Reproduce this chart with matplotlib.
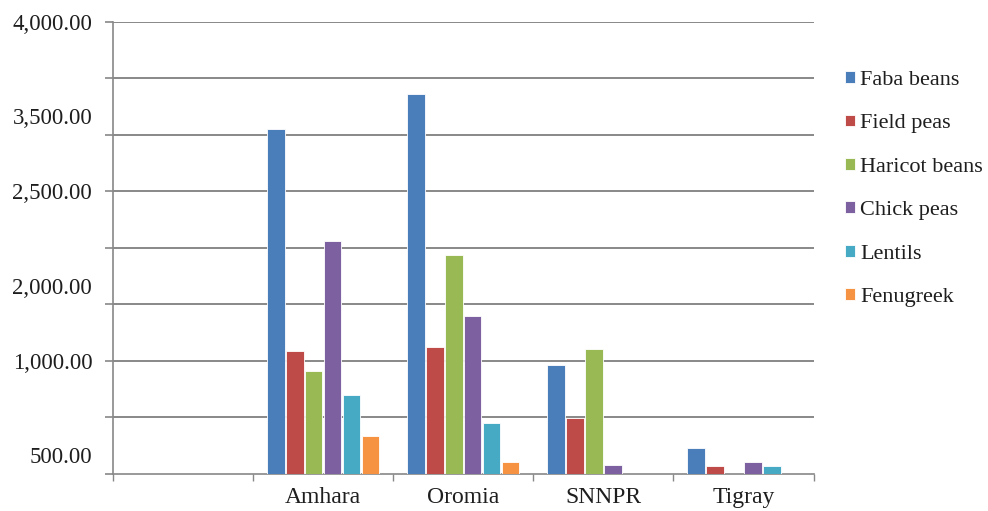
import numpy as np
import matplotlib
matplotlib.use("Agg")
import matplotlib.pyplot as plt
from matplotlib.ticker import FixedLocator

plt.rcParams['font.family'] = ['Liberation Serif', 'DejaVu Serif']

regions = ["Amhara", "Oromia", "SNNPR", "Tigray"]
crops = ["Faba beans", "Field peas", "Haricot beans", "Chick peas", "Lentils", "Fenugreek"]
faba_beans = [3050, 3360, 962, 227]
field_peas = [1088, 1124, 493, 71]
haricot_beans = [914, 1935, 1103, 0]
chick_peas = [2062, 1395, 80, 109]
lentils = [699, 451, 0, 71]
fenugreek = [336, 103, 0, 0]
series = [faba_beans, field_peas, haricot_beans, chick_peas, lentils, fenugreek]
colors = ["#4A7EBB", "#BE4B48", "#98B954", "#7D60A0", "#46AAC5", "#F59343"]

ytick_values = [4000, 3167, 2500, 1667, 1000, 167]
ytick_labels = ["4,000.00", "3,500.00", "2,500.00", "2,000.00", "1,000.00", "500.00"]
grid_values = np.arange(0, 4001, 500)

fig = plt.figure(figsize=(9.88, 5.11), dpi=100)
ax = fig.add_axes([0.1144, 0.0724, 0.709, 0.8846])

x = np.arange(len(regions))
n = len(series)
pitch = 0.135
width = 0.125
for i, (vals, name, c) in enumerate(zip(series, crops, colors)):
    offs = (i - (n - 1) / 2) * pitch
    ax.bar(x + offs, vals, width=width, color=c, edgecolor="white",
           linewidth=0.6, label=name, zorder=3)

ax.set_xlim(-1.5, 3.5)
ax.set_ylim(0, 4000)

text_color = "#1e1e1e"

# category axis: boundaries as ticks, names centred in each slot
ax.set_xticks(x)
ax.set_xticklabels(regions, fontsize=17, color=text_color)
ax.tick_params(axis="x", which="major", length=0, pad=9)
ax.xaxis.set_minor_locator(FixedLocator(np.arange(-1.5, 3.6, 1.0)))
ax.tick_params(axis="x", which="minor", length=5, color="#888888", width=1)

# value axis: gridlines every 500, labels as printed
ax.yaxis.remove_overlapping_locs = False
ax.yaxis.set_minor_locator(FixedLocator(grid_values))
ax.set_yticks(ytick_values)
ax.set_yticklabels(ytick_labels, fontsize=16.5, color=text_color)
ax.tick_params(axis="y", which="major", length=0, pad=15)
ax.tick_params(axis="y", which="minor", length=6, color="#888888", width=1.2)
for g in grid_values[1:]:
    ax.axhline(g, color="#888888", linewidth=1.4, zorder=0)

for s in ["top", "right"]:
    ax.spines[s].set_visible(False)
ax.spines["left"].set_color("#888888")
ax.spines["left"].set_linewidth(1.2)
ax.spines["bottom"].set_color("#888888")
ax.spines["bottom"].set_linewidth(1.2)

leg = fig.legend(loc="center left", bbox_to_anchor=(0.855, 0.63), frameon=False,
                 fontsize=16, handlelength=0.45, handleheight=0.45,
                 handletextpad=0.25, labelspacing=1.1, borderaxespad=0,
                 borderpad=0)
for t in leg.get_texts():
    t.set_color(text_color)

fig.savefig("out.png", dpi=100)
